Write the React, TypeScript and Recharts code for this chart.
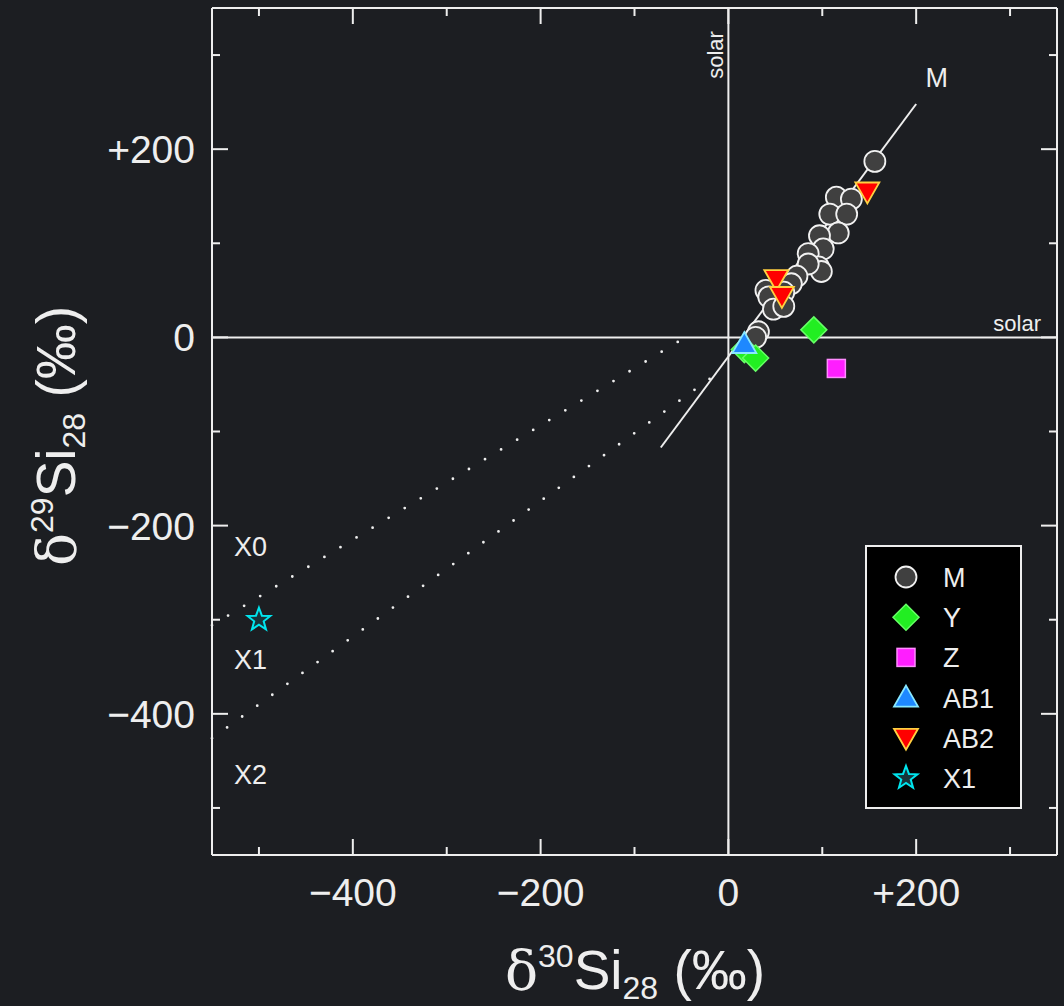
import React from 'react';
import { ScatterChart, Scatter, XAxis, YAxis, ReferenceLine, ReferenceDot, Legend } from 'recharts';

const FG = '#eeeeee';
const BG = '#1c1e22';
const FONT = '"Liberation Sans", Arial, Helvetica, sans-serif';

// axis ticks (every 100, labelled every 200)
const axisTicks = [-500, -400, -300, -200, -100, 0, 100, 200, 300];
const labelTicks = [-400, -200, 0, 200];
const domain: [number, number] = [-550, 350];

// grain data: [δ30Si, δ29Si] in ‰
const mGrains = [
  { x: 156, y: 187 }, { x: 115, y: 149 }, { x: 131, y: 147 }, { x: 108, y: 131 },
  { x: 126, y: 131 }, { x: 117, y: 111 }, { x: 97, y: 108 }, { x: 101, y: 94 },
  { x: 85, y: 89 }, { x: 96, y: 75 }, { x: 99, y: 70 }, { x: 85, y: 78 },
  { x: 73, y: 65 }, { x: 67, y: 57 }, { x: 59, y: 48 }, { x: 40, y: 50 },
  { x: 43, y: 43 }, { x: 48, y: 30 }, { x: 59, y: 33 }, { x: 32, y: 6 }, { x: 29, y: 0 },
];
const yGrains = [{ x: 91, y: 8 }, { x: 17, y: -13 }, { x: 29, y: -22 }];
const zGrains = [{ x: 115, y: -33 }];
const ab1Grains = [{ x: 17, y: -7 }];
const ab2Grains = [{ x: 148, y: 155 }, { x: 51, y: 62 }, { x: 57, y: 44 }];
const x1Grains = [{ x: -500, y: -300 }];

// mainstream correlation line and mixing lines toward X grain end members
const mainLine = [{ x: -72, y: -117 }, { x: 200, y: 248 }];
const mixLineX0 = [{ x: -550, y: -306 }, { x: -46, y: 0 }];
const mixLineX2 = [{ x: -550, y: -426 }, { x: -6, y: -34 }];

const textLabels = [
  { x: 222, y: 276, text: 'M' },
  { x: -509, y: -222, text: 'X0' },
  { x: -509, y: -342, text: 'X1' },
  { x: -509, y: -464, text: 'X2' },
];

const fmt = (v: number) => (v > 0 ? `+${v}` : v < 0 ? `\u2212${Math.abs(v)}` : '0');
const tickLen = (v: number) => (labelTicks.includes(v) ? 16 : 8);

const BottomTick = (p: any) => {
  const v = p.payload.value;
  return (
    <g>
      <line x1={p.x} x2={p.x} y1={p.y} y2={p.y - tickLen(v)} stroke={FG} strokeWidth={2} />
      {labelTicks.includes(v) && (
        <text x={p.x} y={p.y + 51} textAnchor="middle" fontSize={39} fill={FG} fontFamily={FONT}>{fmt(v)}</text>
      )}
    </g>
  );
};
const TopTick = (p: any) => (
  <line x1={p.x} x2={p.x} y1={p.y} y2={p.y + tickLen(p.payload.value)} stroke={FG} strokeWidth={2} />
);
const LeftTick = (p: any) => {
  const v = p.payload.value;
  return (
    <g>
      <line x1={p.x} x2={p.x + tickLen(v)} y1={p.y} y2={p.y} stroke={FG} strokeWidth={2} />
      {labelTicks.includes(v) && (
        <text x={p.x - 17} y={p.y + 14} textAnchor="end" fontSize={39} fill={FG} fontFamily={FONT}>{fmt(v)}</text>
      )}
    </g>
  );
};
const RightTick = (p: any) => (
  <line x1={p.x} x2={p.x - tickLen(p.payload.value)} y1={p.y} y2={p.y} stroke={FG} strokeWidth={2} />
);

// marker shapes
const circleMark = (cx: number, cy: number) => (
  <circle cx={cx} cy={cy} r={10.5} fill="#404040" stroke="#f2f2f2" strokeWidth={1.8} />
);
const diamondMark = (cx: number, cy: number) => {
  const s = 13;
  return (
    <polygon points={`${cx},${cy - s} ${cx + s},${cy} ${cx},${cy + s} ${cx - s},${cy}`}
      fill="#22ee22" stroke="#66ff66" strokeWidth={1.5} />
  );
};
const squareMark = (cx: number, cy: number) => (
  <rect x={cx - 9} y={cy - 9} width={18} height={18} fill="#ff1eff" stroke="#ff8cff" strokeWidth={1.5} />
);
const upTriMark = (cx: number, cy: number) => {
  const s = 12;
  return (
    <polygon points={`${cx},${cy - s} ${cx + s},${cy + s * 0.75} ${cx - s},${cy + s * 0.75}`}
      fill="#1e88ff" stroke="#88e8ff" strokeWidth={1.8} />
  );
};
const downTriMark = (cx: number, cy: number) => {
  const s = 12;
  return (
    <polygon points={`${cx - s},${cy - s * 0.75} ${cx + s},${cy - s * 0.75} ${cx},${cy + s}`}
      fill="#ff0000" stroke="#ffd040" strokeWidth={1.8} />
  );
};
const starMark = (cx: number, cy: number) => {
  const pts: string[] = [];
  for (let i = 0; i < 10; i++) {
    const r = i % 2 === 0 ? 12 : 5;
    const a = -Math.PI / 2 + (i * Math.PI) / 5;
    pts.push(`${cx + r * Math.cos(a)},${cy + r * Math.sin(a)}`);
  }
  return <polygon points={pts.join(' ')} fill="#18343a" stroke="#00e5ee" strokeWidth={2} />;
};

const legendItems = [
  { name: 'M', mark: circleMark },
  { name: 'Y', mark: diamondMark },
  { name: 'Z', mark: squareMark },
  { name: 'AB1', mark: upTriMark },
  { name: 'AB2', mark: downTriMark },
  { name: 'X1', mark: starMark },
];

const LegendBox = () => (
  <svg width={157} height={264} style={{ display: 'block' }}>
    <rect x={1} y={1} width={155} height={262} fill="#000" stroke={FG} strokeWidth={2} />
    {legendItems.map((it, i) => (
      <g key={it.name}>
        {it.mark(41, 32 + i * 40.2)}
        <text x={78} y={32 + i * 40.2 + 10} fontSize={27} fill={FG} fontFamily={FONT}>{it.name}</text>
      </g>
    ))}
  </svg>
);

const axisLine = { stroke: FG, strokeWidth: 2 };

export default function App() {
  return (
    <div style={{ position: 'absolute', left: 0, top: 0, width: 1064, height: 1006, background: BG }}>
      <ScatterChart width={1064} height={1006} margin={{ top: 7, right: 6, bottom: 91, left: 112 }}>
        <XAxis xAxisId="b" type="number" dataKey="x" domain={domain} allowDataOverflow ticks={axisTicks}
          interval={0} orientation="bottom" height={60} tickSize={0} tickMargin={0}
          tick={<BottomTick />} axisLine={axisLine} />
        <XAxis xAxisId="t" type="number" dataKey="x" domain={domain} allowDataOverflow ticks={axisTicks}
          interval={0} orientation="top" height={1} tickSize={0} tickMargin={0}
          tick={<TopTick />} axisLine={axisLine} />
        <YAxis yAxisId="l" type="number" dataKey="y" domain={domain} allowDataOverflow ticks={axisTicks}
          interval={0} orientation="left" width={100} tickSize={0} tickMargin={0}
          tick={<LeftTick />} axisLine={axisLine} />
        <YAxis yAxisId="r" type="number" dataKey="y" domain={domain} allowDataOverflow ticks={axisTicks}
          interval={0} orientation="right" width={1} tickSize={0} tickMargin={0}
          tick={<RightTick />} axisLine={axisLine} />

        <ReferenceLine xAxisId="b" yAxisId="l" x={0} stroke={FG} strokeWidth={2}
          label={(p: any) => (
            <text transform={`translate(${p.viewBox.x - 5},${p.viewBox.y + 47}) rotate(-90)`} textAnchor="middle"
              fontSize={22} fill={FG} fontFamily={FONT}>solar</text>
          )} />
        <ReferenceLine xAxisId="b" yAxisId="l" y={0} stroke={FG} strokeWidth={2}
          label={(p: any) => (
            <text x={p.viewBox.x + p.viewBox.width - 16} y={p.viewBox.y - 6} textAnchor="end"
              fontSize={22} fill={FG} fontFamily={FONT}>solar</text>
          )} />

        <ReferenceLine xAxisId="b" yAxisId="l" segment={mixLineX0} stroke={FG} strokeWidth={2.8}
          strokeDasharray="0 18.8" strokeLinecap="round" />
        <ReferenceLine xAxisId="b" yAxisId="l" segment={mixLineX2} stroke={FG} strokeWidth={2.8}
          strokeDasharray="0 18.6" strokeLinecap="round" />
        <ReferenceLine xAxisId="b" yAxisId="l" segment={mainLine} stroke={FG} strokeWidth={2} />

        {textLabels.map((t) => (
          <ReferenceDot key={t.text} xAxisId="b" yAxisId="l" x={t.x} y={t.y} r={0} stroke="none" fill="none"
            label={{ value: t.text, position: 'center', fill: FG, fontSize: 27, fontFamily: FONT }} />
        ))}

        <Scatter name="M" data={mGrains} xAxisId="b" yAxisId="l" isAnimationActive={false}
          shape={(p: any) => circleMark(p.cx, p.cy)} />
        <Scatter name="Y" data={yGrains} xAxisId="b" yAxisId="l" isAnimationActive={false}
          shape={(p: any) => diamondMark(p.cx, p.cy)} />
        <Scatter name="Z" data={zGrains} xAxisId="b" yAxisId="l" isAnimationActive={false}
          shape={(p: any) => squareMark(p.cx, p.cy)} />
        <Scatter name="AB1" data={ab1Grains} xAxisId="b" yAxisId="l" isAnimationActive={false}
          shape={(p: any) => upTriMark(p.cx, p.cy)} />
        <Scatter name="AB2" data={ab2Grains} xAxisId="b" yAxisId="l" isAnimationActive={false}
          shape={(p: any) => downTriMark(p.cx, p.cy)} />
        <Scatter name="X1" data={x1Grains} xAxisId="b" yAxisId="l" isAnimationActive={false}
          shape={(p: any) => starMark(p.cx, p.cy)} />

        <Legend layout="horizontal" verticalAlign="middle" align="center"
          wrapperStyle={{ left: 865, top: 545, width: 157, height: 264 }} content={() => <LegendBox />} />

        <text x={635} y={989} textAnchor="middle" fontSize={55} fill={FG} fontFamily={FONT}>
          <tspan fontFamily="'DejaVu Serif', 'Liberation Serif', serif">δ</tspan>
          <tspan fontSize={32} dy={-22}>30</tspan>
          <tspan dy={22}>Si</tspan>
          <tspan fontSize={32} dy={10}>28</tspan>
          <tspan dy={-10}> (‰)</tspan>
        </text>
        <text transform="translate(75,436) rotate(-90)" textAnchor="middle" fontSize={55} fill={FG} fontFamily={FONT}>
          <tspan fontFamily="'DejaVu Serif', 'Liberation Serif', serif">δ</tspan>
          <tspan fontSize={32} dy={-22}>29</tspan>
          <tspan dy={22}>Si</tspan>
          <tspan fontSize={32} dy={10}>28</tspan>
          <tspan dy={-10}> (‰)</tspan>
        </text>
      </ScatterChart>
    </div>
  );
}
